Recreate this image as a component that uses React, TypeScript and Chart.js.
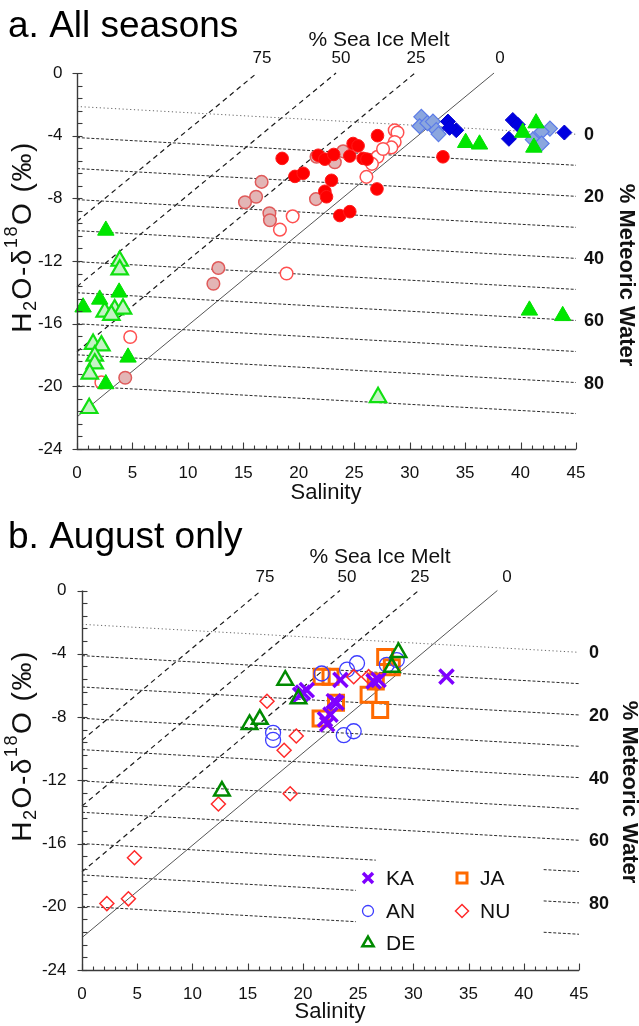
import React, { useEffect, useRef } from "react";
import { Chart, registerables } from "chart.js";

Chart.register(...registerables);

type Pt = [number, number];

// ---------- axes / reference values ----------
const salinityTicks = [0, 5, 10, 15, 20, 25, 30, 35, 40, 45];
const d18OTicks = [0, -4, -8, -12, -16, -20, -24];
const meteoricPct = [0, 10, 20, 30, 40, 50, 60, 70, 80, 90];
const meteoricLabelPct = [0, 20, 40, 60, 80];
const seaIcePct = [0, 25, 50, 75];

// mixing-model end members [salinity, d18O]
const endMeteoric: Pt = [0, -21.95];
const endSeawater: Pt = [31.8, -3.39];
const endSeaIce: Pt = [5.1, -2.34];

// ---------- panel a: all seasons ----------
const aRedFilled: Pt[] = [
  [18.5, -5.45], [19.65, -6.6], [20.4, -6.4], [21.75, -5.25], [22.35, -5.5], [23.15, -5.2],
  [24.6, -5.3], [24.9, -4.5], [25.35, -4.65], [25.8, -5.45], [26.15, -5.5], [27.1, -4.0],
  [22.95, -6.85], [22.35, -7.55], [22.5, -7.9], [23.7, -9.1], [24.6, -8.85], [27.05, -7.4],
  [33.0, -5.35],
];
const aRedOpen: Pt[] = [
  [19.45, -9.15], [18.3, -10.0], [18.9, -12.8], [26.1, -6.63], [27.1, -5.35], [26.6, -5.8],
  [28.65, -3.65], [28.9, -3.8], [28.65, -4.4], [28.35, -4.75], [27.6, -4.85], [4.8, -16.85],
  [2.2, -19.75],
];
const aPink: Pt[] = [
  [16.65, -6.95], [16.15, -7.9], [15.15, -8.25], [17.35, -8.95], [17.4, -9.4], [21.55, -8.05],
  [24.0, -5.0], [23.25, -5.7], [21.6, -5.35], [12.75, -12.45], [12.3, -13.45], [4.35, -19.45],
];
const aDarkBlue: Pt[] = [
  [33.45, -3.1], [34.2, -3.65], [33.6, -3.5], [39.3, -3.0], [39.75, -3.3], [38.95, -4.2], [43.95, -3.8],
];
const aLightBlue: Pt[] = [
  [31.05, -2.8], [30.9, -3.4], [31.6, -3.2], [32.1, -3.1], [32.4, -3.65], [32.6, -3.9],
  [42.65, -3.55], [41.9, -3.75], [41.1, -4.25], [41.9, -4.5],
];
const aGreenFilled: Pt[] = [
  [2.6, -10.05], [0.55, -14.95], [2.05, -14.45], [3.8, -14.0], [4.6, -18.15], [2.6, -19.85],
  [35.05, -4.45], [36.3, -4.55], [41.4, -3.2], [40.2, -3.8], [41.2, -4.75], [40.8, -15.15], [43.8, -15.5],
];
const aGreenLight: Pt[] = [
  [3.85, -12.0], [3.85, -12.55], [2.5, -15.25], [3.4, -15.1], [4.15, -15.05], [3.1, -15.45],
  [1.45, -17.3], [2.2, -17.4], [1.6, -18.05], [1.6, -18.55], [1.15, -19.2], [1.1, -21.4], [27.15, -20.7],
];

// ---------- panel b: August only ----------
const bSeriesNames = ["KA", "AN", "DE", "JA", "NU"];
const bKA: Pt[] = [
  [33.0, -5.45], [19.75, -6.6], [20.35, -6.3], [20.0, -6.45], [22.5, -7.85], [23.05, -7.1],
  [22.8, -7.0], [22.0, -8.15], [22.2, -8.45], [23.4, -5.65], [26.4, -5.75], [26.85, -5.65],
];
const bAN: Pt[] = [
  [21.7, -5.25], [24.0, -5.0], [24.9, -4.6], [27.6, -4.7], [28.5, -4.4], [17.3, -9.0],
  [17.3, -9.45], [23.7, -9.15], [24.6, -8.9],
];
const bDE: Pt[] = [
  [18.4, -5.67], [19.6, -6.85], [16.1, -8.15], [15.17, -8.47], [28.65, -3.92], [28.05, -4.85], [12.67, -12.68],
];
const bJA: Pt[] = [
  [21.7, -5.45], [22.5, -5.45], [23.0, -7.1], [21.6, -8.1], [25.95, -6.6], [27.0, -7.55],
  [27.45, -4.2], [28.05, -4.85], [26.6, -5.75],
];
const bNU: Pt[] = [
  [16.75, -7.0], [19.4, -9.2], [18.3, -10.1], [24.6, -5.45], [25.95, -5.45], [18.85, -12.85],
  [12.35, -13.5], [4.75, -16.9], [2.25, -19.8], [4.2, -19.5],
];
// meteoric lines interrupted by the legend in panel b: [salinity end of left part, start of right part]
const bLegendGap: Record<number, [number, number]> = { 70: [26.6, 41.8], 80: [24.8, 41.8], 90: [24.8, 41.8] };

const FONT = '"Liberation Sans", Arial, Helvetica, sans-serif';
const W = 639;
const H = 513;

const toXY = (pts: Pt[]) => pts.map(([x, y]) => ({ x, y }));

function mixingLines(gaps: Record<number, [number, number]>) {
  const kS = (endSeaIce[1] - endSeawater[1]) / (endSeaIce[0] - endSeawater[0]);
  const kM = (endSeawater[1] - endMeteoric[1]) / (endSeawater[0] - endMeteoric[0]);
  const out: any[] = [];
  const base = { type: "scatter", showLine: true, pointRadius: 0, pointHoverRadius: 0, fill: false, order: 100, tension: 0 };
  for (const p of meteoricPct) {
    const m = p / 100;
    const s0 = m * endMeteoric[0] + (1 - m) * endSeawater[0];
    const d0 = m * endMeteoric[1] + (1 - m) * endSeawater[1];
    const f = (s: number) => d0 + kS * (s - s0);
    const segs: [number, number][] = gaps[p] ? [[0, gaps[p][0]], [gaps[p][1], 45]] : [[0, 45]];
    for (const [a, b] of segs) {
      out.push({
        ...base,
        data: [{ x: a, y: f(a) }, { x: b, y: f(b) }],
        borderColor: p === 0 ? "#666" : "#2a2a2a",
        borderWidth: 1,
        borderDash: p === 0 ? [1.2, 2.6] : [3, 1.8],
      });
    }
  }
  for (const p of seaIcePct) {
    const s = p / 100;
    const s0 = s * endSeaIce[0] + (1 - s) * endSeawater[0];
    const d0 = s * endSeaIce[1] + (1 - s) * endSeawater[1];
    const dAt0 = d0 - kM * s0;
    const sTop = s0 - d0 / kM;
    out.push({
      ...base,
      data: [{ x: 0, y: dAt0 }, { x: sTop, y: 0 }],
      borderColor: p === 0 ? "#555" : "#1a1a1a",
      borderWidth: p === 0 ? 1 : 1.2,
      borderDash: p === 0 ? [] : [5, 4],
    });
  }
  return out;
}

function seriesDs(pts: Pt[], style: any, order: number) {
  return { type: "scatter", data: toXY(pts), order, pointHoverRadius: style.pointRadius, ...style };
}

function fitMeteoricRight(p: number) {
  const kS = (endSeaIce[1] - endSeawater[1]) / (endSeaIce[0] - endSeawater[0]);
  const m = p / 100;
  const s0 = m * endMeteoric[0] + (1 - m) * endSeawater[0];
  const d0 = m * endMeteoric[1] + (1 - m) * endSeawater[1];
  return d0 + kS * (45 - s0);
}

function legendMarker(ctx: CanvasRenderingContext2D, name: string, x: number, y: number) {
  ctx.save();
  ctx.beginPath();
  if (name === "KA") {
    ctx.strokeStyle = "#7f00ff"; ctx.lineWidth = 3.5;
    ctx.moveTo(x - 5, y - 5); ctx.lineTo(x + 5, y + 5); ctx.moveTo(x + 5, y - 5); ctx.lineTo(x - 5, y + 5);
  } else if (name === "AN") {
    ctx.strokeStyle = "#3d3dff"; ctx.lineWidth = 1.3;
    ctx.arc(x, y, 5.5, 0, Math.PI * 2);
  } else if (name === "DE") {
    ctx.strokeStyle = "#008a00"; ctx.lineWidth = 2.5;
    const r = 6.5;
    ctx.moveTo(x, y - r); ctx.lineTo(x + r * 0.866, y + r / 2); ctx.lineTo(x - r * 0.866, y + r / 2); ctx.closePath();
  } else if (name === "JA") {
    ctx.strokeStyle = "#ff6a00"; ctx.lineWidth = 3;
    ctx.rect(x - 5, y - 5, 10, 10);
  } else {
    ctx.strokeStyle = "#ff2a2a"; ctx.lineWidth = 1.5;
    ctx.moveTo(x, y - 6.5); ctx.lineTo(x + 6.5, y); ctx.lineTo(x, y + 6.5); ctx.lineTo(x - 6.5, y); ctx.closePath();
  }
  ctx.stroke();
  ctx.restore();
}

function drawYTitle(ctx: CanvasRenderingContext2D, cx: number, cy: number, size: number, spacing: number) {
  const parts = [
    { t: "H", sc: 1, dy: 0 },
    { t: "2", sc: 0.65, dy: 0.3 },
    { t: "O-\u03b4", sc: 1, dy: 0 },
    { t: "18", sc: 0.65, dy: -0.38 },
    { t: "O (\u2030)", sc: 1, dy: 0 },
  ];
  ctx.save();
  ctx.translate(cx, cy);
  ctx.rotate(-Math.PI / 2);
  ctx.textBaseline = "middle";
  ctx.textAlign = "left";
  (ctx as any).letterSpacing = `${spacing}px`;
  let total = 0;
  const widths = parts.map((p) => {
    ctx.font = `${size * p.sc}px ${FONT}`;
    const w = ctx.measureText(p.t).width;
    total += w;
    return w;
  });
  let x = -total / 2;
  parts.forEach((p, i) => {
    ctx.font = `${size * p.sc}px ${FONT}`;
    ctx.fillText(p.t, x, p.dy * size);
    x += widths[i];
  });
  (ctx as any).letterSpacing = "0px";
  ctx.restore();
}

function decorPlugin(cfg: any) {
  return {
    id: "decor",
    afterDraw(chart: any) {
      const ctx: CanvasRenderingContext2D = chart.ctx;
      const xs = chart.scales.x;
      const ys = chart.scales.y;
      const X = (v: number) => xs.getPixelForValue(v);
      const Y = (v: number) => ys.getPixelForValue(v);
      ctx.save();
      ctx.fillStyle = "#111";
      // axes
      const x0 = Math.round(X(0)) + 0.5;
      const xEnd = X(45);
      const yTop = Y(0);
      const yBot = Math.round(Y(-24)) + 0.5;
      ctx.strokeStyle = "#3a3a3a";
      ctx.lineWidth = 1.4;
      ctx.beginPath();
      ctx.moveTo(x0, yTop); ctx.lineTo(x0, yBot); ctx.lineTo(xEnd, yBot);
      ctx.stroke();
      ctx.lineWidth = 1.1;
      for (let i = 0; i <= 30; i++) {
        const y = Math.round(Y(-i * 0.8)) + 0.5;
        const major = i % 5 === 0;
        ctx.beginPath();
        ctx.moveTo(major ? x0 - 5 : x0, y); ctx.lineTo(x0 + 5, y);
        ctx.stroke();
      }
      for (let v = 0; v <= 45; v++) {
        const x = Math.round(X(v)) + 0.5;
        const major = v % 5 === 0;
        ctx.beginPath();
        ctx.moveTo(x, yBot); ctx.lineTo(x, yBot - (major ? 7 : 4));
        ctx.stroke();
      }
      // tick labels
      ctx.font = `17px ${FONT}`;
      ctx.textAlign = "right";
      ctx.textBaseline = "middle";
      for (const v of d18OTicks) ctx.fillText(String(v), x0 - cfg.yLabelGap, Y(v));
      ctx.textAlign = "center";
      for (const v of salinityTicks) ctx.fillText(String(v), X(v), yBot + 24);
      // axis titles
      ctx.font = `22px ${FONT}`;
      ctx.fillText("Salinity", cfg.xTitle[0], cfg.xTitle[1]);
      drawYTitle(ctx, cfg.yTitle[0], cfg.yTitle[1], 28, 1.5);
      // panel title
      ctx.textAlign = "left";
      ctx.textBaseline = "alphabetic";
      ctx.fillStyle = "#000";
      ctx.font = `37px ${FONT}`;
      ctx.fillText(cfg.title, 8, cfg.titleY);
      // sea ice melt labels
      ctx.fillStyle = "#111";
      ctx.textAlign = "center";
      ctx.textBaseline = "middle";
      ctx.font = `21px ${FONT}`;
      ctx.fillText("% Sea Ice Melt", cfg.seaIceTitle[0], cfg.seaIceTitle[1]);
      ctx.font = `17px ${FONT}`;
      seaIcePct.forEach((p, i) => ctx.fillText(String(p), cfg.seaIceLabelX[i], cfg.seaIceLabelY));
      // meteoric labels (right)
      ctx.font = `bold 18px ${FONT}`;
      ctx.textAlign = "left";
      for (const p of meteoricLabelPct) ctx.fillText(String(p), cfg.rightLabelX, Y(fitMeteoricRight(p)) + 1);
      ctx.save();
      ctx.translate(cfg.meteoricTitle[0], cfg.meteoricTitle[1]);
      ctx.rotate(Math.PI / 2);
      ctx.textAlign = "center";
      ctx.font = `bold 22px ${FONT}`;
      ctx.fillText("% Meteoric Water", 0, 0);
      ctx.restore();
      // legend (panel b)
      if (cfg.legend) {
        ctx.font = `21px ${FONT}`;
        ctx.textAlign = "left";
        ctx.fillStyle = "#111";
        bSeriesNames.forEach((name, i) => {
          const col = i < 3 ? 0 : 1;
          const row = i < 3 ? i : i - 3;
          const mx = cfg.legend.x[col];
          const my = cfg.legend.y[row];
          legendMarker(ctx, name, mx, my);
          ctx.fillText(name, mx + 18, my + 1);
        });
      }
      ctx.restore();
    },
  };
}

const panelA = {
  padding: { left: 77, right: 63, top: 73, bottom: 64 },
  datasets: [
    ...mixingLines({}),
    seriesDs(aGreenFilled, { pointStyle: "triangle", pointRadius: 9.5, backgroundColor: "#00e600", borderColor: "#00e000", borderWidth: 1 }, 1),
    seriesDs(aGreenLight, { pointStyle: "triangle", pointRadius: 9.5, backgroundColor: "#c6f2c6", borderColor: "#11e011", borderWidth: 2.2 }, 2),
    seriesDs(aRedFilled, { pointStyle: "circle", pointRadius: 6.3, backgroundColor: "#ff0000", borderColor: "#ff1a1a", borderWidth: 1 }, 3),
    seriesDs(aRedOpen, { pointStyle: "circle", pointRadius: 6.3, backgroundColor: "#ffffff", borderColor: "#ff5050", borderWidth: 1.5 }, 4),
    seriesDs(aPink, { pointStyle: "circle", pointRadius: 6.3, backgroundColor: "#e3b5b5", borderColor: "#e05a5a", borderWidth: 1.5 }, 5),
    seriesDs(aDarkBlue, { pointStyle: "rectRot", pointRadius: 7.5, backgroundColor: "#0000e0", borderColor: "#0000d0", borderWidth: 1 }, 6),
    seriesDs(aLightBlue, { pointStyle: "rectRot", pointRadius: 7.5, backgroundColor: "#8ba6de", borderColor: "#5b7be8", borderWidth: 1.2 }, 7),
  ],
  title: "a. All seasons",
  titleY: 37,
  yLabelGap: 15,
  xTitle: [326, 493],
  yTitle: [23, 237],
  seaIceTitle: [379, 40],
  seaIceLabelX: [500, 416, 341, 262],
  seaIceLabelY: 58,
  rightLabelX: 584,
  meteoricTitle: [626, 275],
  legend: null,
};

const panelB = {
  padding: { left: 82, right: 60, top: 77.5, bottom: 56 },
  datasets: [
    ...mixingLines(bLegendGap),
    seriesDs(bDE, { pointStyle: "triangle", pointRadius: 9, backgroundColor: "rgba(0,0,0,0)", borderColor: "#008a00", borderWidth: 2.5 }, 1),
    seriesDs(bKA, { pointStyle: "crossRot", pointRadius: 10, backgroundColor: "#7f00ff", borderColor: "#7f00ff", borderWidth: 3.5 }, 2),
    seriesDs(bNU, { pointStyle: "rectRot", pointRadius: 7, backgroundColor: "rgba(0,0,0,0)", borderColor: "#ff2a2a", borderWidth: 1.5 }, 3),
    seriesDs(bAN, { pointStyle: "circle", pointRadius: 7.5, backgroundColor: "rgba(0,0,0,0)", borderColor: "#3d3dff", borderWidth: 1.3 }, 4),
    seriesDs(bJA, { pointStyle: "rect", pointRadius: 10.6, backgroundColor: "rgba(0,0,0,0)", borderColor: "#ff6a00", borderWidth: 3 }, 5),
  ],
  title: "b. August only",
  titleY: 35,
  yLabelGap: 16,
  xTitle: [330, 499],
  yTitle: [23, 233],
  seaIceTitle: [380, 44],
  seaIceLabelX: [507, 420, 347, 265],
  seaIceLabelY: 64,
  rightLabelX: 589,
  meteoricTitle: [629, 279],
  legend: { x: [368, 462], y: [365, 398, 430] },
};

function Panel({ cfg, top }: { cfg: any; top: number }) {
  const ref = useRef<HTMLCanvasElement>(null);
  useEffect(() => {
    const chart = new Chart(ref.current as HTMLCanvasElement, {
      type: "scatter",
      data: { datasets: cfg.datasets },
      options: {
        responsive: false,
        animation: false,
        devicePixelRatio: 1,
        events: [],
        layout: { padding: cfg.padding },
        plugins: { legend: { display: false }, tooltip: { enabled: false } },
        elements: { line: { tension: 0 } },
        clip: false as any,
        scales: {
          x: { type: "linear", min: 0, max: 45, display: false },
          y: { type: "linear", min: -24, max: 0, display: false },
        },
      } as any,
      plugins: [decorPlugin(cfg)],
    } as any);
    return () => chart.destroy();
  }, [cfg]);
  return (
    <canvas
      ref={ref}
      width={W}
      height={H}
      style={{ position: "absolute", left: 0, top, width: W, height: H, display: "block" }}
    />
  );
}

export default function App() {
  return (
    <div style={{ position: "absolute", left: 0, top: 0, width: W, height: 1026, background: "#ffffff" }}>
      <Panel cfg={panelA} top={0} />
      <Panel cfg={panelB} top={H} />
    </div>
  );
}
